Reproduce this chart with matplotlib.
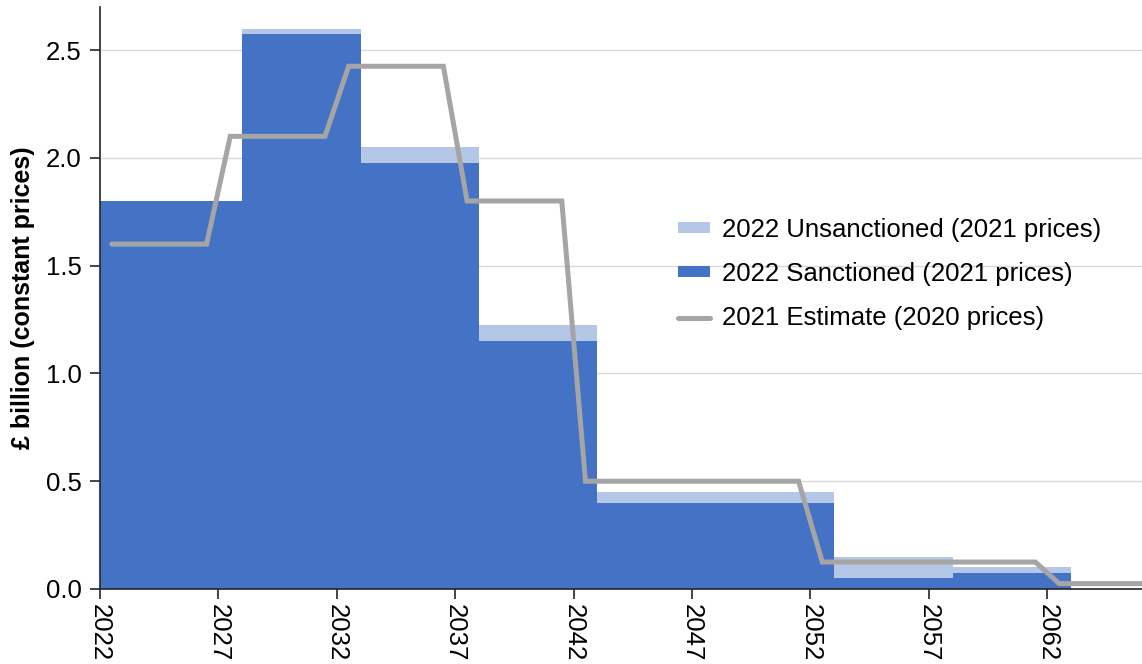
import matplotlib
matplotlib.use("Agg")
import matplotlib.pyplot as plt
import numpy as np

plt.rcParams['font.family'] = ['Liberation Sans', 'DejaVu Sans']

# Data (per year, bars aligned on the year's left edge)
years = list(range(2022, 2067))
sanctioned = ([1.8] * 6 + [2.575] * 5 + [1.975] * 5 + [1.15] * 5 +
              [0.40] * 10 + [0.05] * 5 + [0.075] * 5 + [0.0] * 4)
unsanctioned = ([0.0] * 6 + [0.025] * 5 + [0.075] * 5 + [0.075] * 5 +
                [0.05] * 10 + [0.10] * 5 + [0.025] * 5 + [0.0] * 4)
estimate_2021 = ([1.6] * 5 + [2.1] * 5 + [2.425] * 5 + [1.8] * 5 +
                 [0.5] * 10 + [0.125] * 10 + [0.025] * 5)
tick_years = [2022, 2027, 2032, 2037, 2042, 2047, 2052, 2057, 2062]

labels = ["2022 Unsanctioned (2021 prices)",
          "2022 Sanctioned (2021 prices)",
          "2021 Estimate (2020 prices)"]

fig = plt.figure(figsize=(11.42, 6.64), dpi=100)
ax = fig.add_axes([100 / 1142, 1 - 589 / 664, 1 - 100 / 1142, (589 - 7) / 664])

x = np.array(years, dtype=float)
s = np.array(sanctioned)
u = np.array(unsanctioned)

b_s = ax.bar(x, s, width=1.0, align='edge', color='#4472C4', linewidth=0, zorder=2)
b_u = ax.bar(x, u, width=1.0, align='edge', bottom=s, color='#B4C7E7', linewidth=0, zorder=2)
ln, = ax.plot(x + 0.5, estimate_2021, color='#A5A5A5', lw=3.6,
              solid_joinstyle='miter', solid_capstyle='round', zorder=3)

ax.set_xlim(2022, 2066)
ax.set_ylim(0, 2.7)
ax.set_yticks([0.0, 0.5, 1.0, 1.5, 2.0, 2.5])
ax.set_yticklabels(["0.0", "0.5", "1.0", "1.5", "2.0", "2.5"])
ax.set_xticks(tick_years)
ax.set_xticklabels([str(t) for t in tick_years], rotation=270, ha='center', va='top')

ax.yaxis.grid(True, color='#D9D9D9', lw=1.0, zorder=0)
ax.set_axisbelow(True)
for sp in ['top', 'right']:
    ax.spines[sp].set_visible(False)
for sp in ['left', 'bottom']:
    ax.spines[sp].set_color('#262626')
    ax.spines[sp].set_linewidth(1.2)
ax.tick_params(axis='both', direction='out', length=7, width=1.2, color='#262626',
               labelsize=18.5, labelcolor='#000000')
ax.tick_params(axis='x', pad=4)
ax.tick_params(axis='y', pad=6)

ax.set_ylabel("£ billion (constant prices)", fontsize=18, fontweight='bold', labelpad=8)

leg = ax.legend([b_u, b_s, ln], labels, loc='center left', frameon=False,
                fontsize=18.5, handlelength=1.25, handleheight=0.3, labelspacing=0.78,
                handletextpad=0.45, borderaxespad=0, borderpad=0)
leg.set_bbox_to_anchor((678 / 1142, 1 - 274 / 664), transform=fig.transFigure)

fig.savefig("out.png", dpi=100)
